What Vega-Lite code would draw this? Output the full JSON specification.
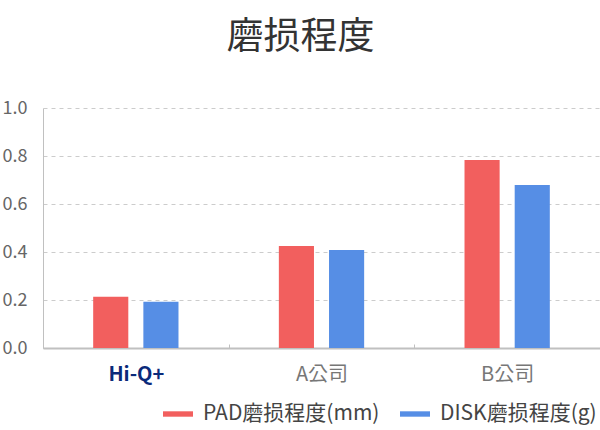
{
  "$schema": "https://vega.github.io/schema/vega-lite/v6.json",
  "autosize": {"type": "none"},
  "padding": {"left": 43, "top": 108, "right": 0, "bottom": 82},
  "width": 557,
  "height": 240,
  "background": "white",
  "title": {
    "text": "磨损程度",
    "font": "Noto Sans CJK KR",
    "fontSize": 37,
    "fontWeight": "normal",
    "color": "#333333",
    "anchor": "middle",
    "dx": -21,
    "offset": 42
  },
  "data": {
    "values": [
      {"company": "Hi-Q+", "series": "PAD磨损程度(mm)", "value": 0.214},
      {"company": "Hi-Q+", "series": "DISK磨损程度(g)", "value": 0.193},
      {"company": "A公司", "series": "PAD磨损程度(mm)", "value": 0.425},
      {"company": "A公司", "series": "DISK磨损程度(g)", "value": 0.408},
      {"company": "B公司", "series": "PAD磨损程度(mm)", "value": 0.783},
      {"company": "B公司", "series": "DISK磨损程度(g)", "value": 0.679}
    ]
  },
  "mark": {"type": "bar"},
  "encoding": {
    "x": {
      "field": "company",
      "type": "nominal",
      "sort": ["Hi-Q+", "A公司", "B公司"],
      "scale": {"paddingInner": 0, "paddingOuter": 0},
      "axis": {
        "title": null,
        "labelAngle": 0,
        "labelFont": "Noto Sans CJK KR",
        "labelFontSize": 20,
        "labelColor": {"condition": {"test": "datum.value == 'Hi-Q+'", "value": "#0a2a7a"}, "value": "#777777"},
        "labelFontWeight": {"condition": {"test": "datum.value == 'Hi-Q+'", "value": "bold"}, "value": "normal"},
        "labelPadding": 20,
        "domainColor": "#c0c0c0",
        "domainWidth": 2,
        "tickBand": "extent",
        "tickColor": "#c0c0c0",
        "tickSize": -4,
        "ticks": true,
        "grid": false
      }
    },
    "xOffset": {
      "field": "series",
      "type": "nominal",
      "sort": ["PAD磨损程度(mm)", "DISK磨损程度(g)"],
      "scale": {"paddingInner": 0.3, "paddingOuter": 1}
    },
    "y": {
      "field": "value",
      "type": "quantitative",
      "scale": {"domain": [0, 1]},
      "axis": {
        "title": null,
        "values": [0, 0.2, 0.4, 0.6, 0.8, 1.0],
        "format": ".1f",
        "labelFont": "Noto Sans CJK KR",
        "labelFontSize": 18,
        "labelColor": "#666666",
        "labelPadding": 16,
        "ticks": false,
        "domainColor": "#c0c0c0",
        "gridColor": "#cccccc",
        "gridDash": [4, 4],
        "gridWidth": 1
      }
    },
    "color": {
      "field": "series",
      "type": "nominal",
      "sort": ["PAD磨损程度(mm)", "DISK磨损程度(g)"],
      "scale": {"range": ["#F25F5E", "#568EE5"]},
      "legend": {
        "title": null,
        "orient": "none",
        "legendX": 120,
        "legendY": 291,
        "direction": "horizontal",
        "symbolType": "M-1,-0.18H1V0.18H-1Z",
        "symbolSize": 900,
        "symbolStrokeWidth": 0,
        "labelFont": "Noto Sans CJK KR",
        "labelFontSize": 21,
        "labelColor": "#444444",
        "labelLimit": 300,
        "labelOffset": 10,
        "columnPadding": 20
      }
    }
  },
  "config": {"view": {"stroke": null}}
}
